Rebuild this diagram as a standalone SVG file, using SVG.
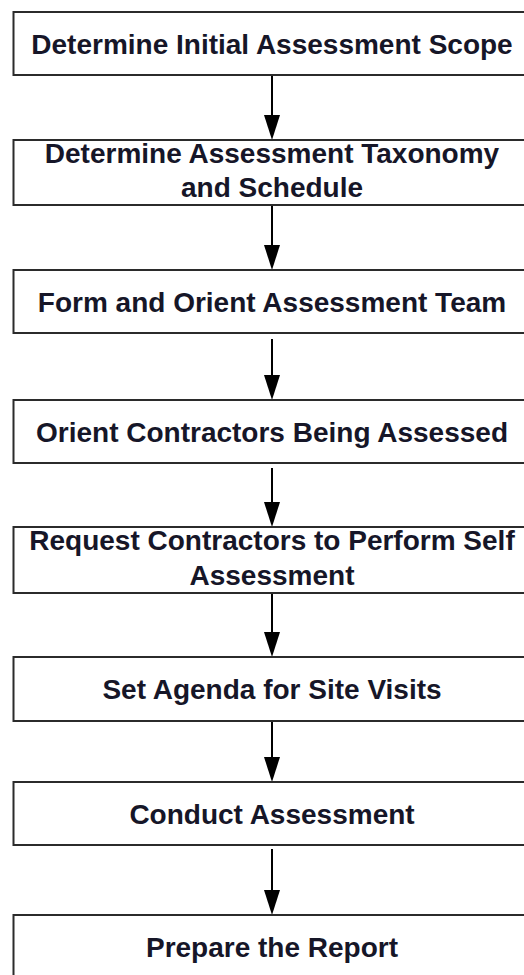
<svg xmlns="http://www.w3.org/2000/svg" width="524" height="975" viewBox="0 0 524 975">
  <defs>
    <marker id="arrow" markerUnits="userSpaceOnUse" markerWidth="26" markerHeight="18" viewBox="0 -9 26 18" refX="13" refY="0" orient="auto">
      <path d="M0,-8 L25,0 L0,8 z" fill="#000"/>
    </marker>
  </defs>
  <style>
    .box { fill: #fff; stroke: #2b2b2b; stroke-width: 2; }
    .lbl { font-family: "Liberation Sans", Arial, sans-serif; font-weight: bold; font-size: 28px; fill: #161628; text-anchor: middle; }
    .conn { stroke: #000; stroke-width: 2; fill: none; marker-end: url(#arrow); }
  </style>
  <rect width="524" height="975" fill="#fff"/>

  <g id="connectors">
    <line class="conn" x1="272" y1="75" x2="272" y2="128"/>
    <line class="conn" x1="272" y1="205" x2="272" y2="258"/>
    <line class="conn" x1="272" y1="339" x2="272" y2="388"/>
    <line class="conn" x1="272" y1="468" x2="272" y2="515"/>
    <line class="conn" x1="272" y1="593" x2="272" y2="645"/>
    <line class="conn" x1="272" y1="721" x2="272" y2="770"/>
    <line class="conn" x1="272" y1="849" x2="272" y2="903"/>
  </g>

  <g id="n1">
    <rect class="box" x="13.5" y="12" width="517" height="63"/>
    <text class="lbl" x="272" y="53.5">Determine Initial Assessment Scope</text>
  </g>
  <g id="n2">
    <rect class="box" x="13.5" y="140" width="517" height="65"/>
    <text class="lbl" x="272" y="163">Determine Assessment Taxonomy</text>
    <text class="lbl" x="272" y="197">and Schedule</text>
  </g>
  <g id="n3">
    <rect class="box" x="13.5" y="270" width="517" height="63"/>
    <text class="lbl" x="272" y="312">Form and Orient Assessment Team</text>
  </g>
  <g id="n4">
    <rect class="box" x="13.5" y="400" width="517" height="63"/>
    <text class="lbl" x="272" y="441.5">Orient Contractors Being Assessed</text>
  </g>
  <g id="n5">
    <rect class="box" x="13.5" y="527" width="517" height="66"/>
    <text class="lbl" x="272" y="550">Request Contractors to Perform Self</text>
    <text class="lbl" x="272" y="585">Assessment</text>
  </g>
  <g id="n6">
    <rect class="box" x="13.5" y="657" width="517" height="64"/>
    <text class="lbl" x="272" y="699">Set Agenda for Site Visits</text>
  </g>
  <g id="n7">
    <rect class="box" x="13.5" y="782" width="517" height="63"/>
    <text class="lbl" x="272" y="823.5">Conduct Assessment</text>
  </g>
  <g id="n8">
    <rect class="box" x="13.5" y="915" width="517" height="64"/>
    <text class="lbl" x="272" y="957">Prepare the Report</text>
  </g>
</svg>
